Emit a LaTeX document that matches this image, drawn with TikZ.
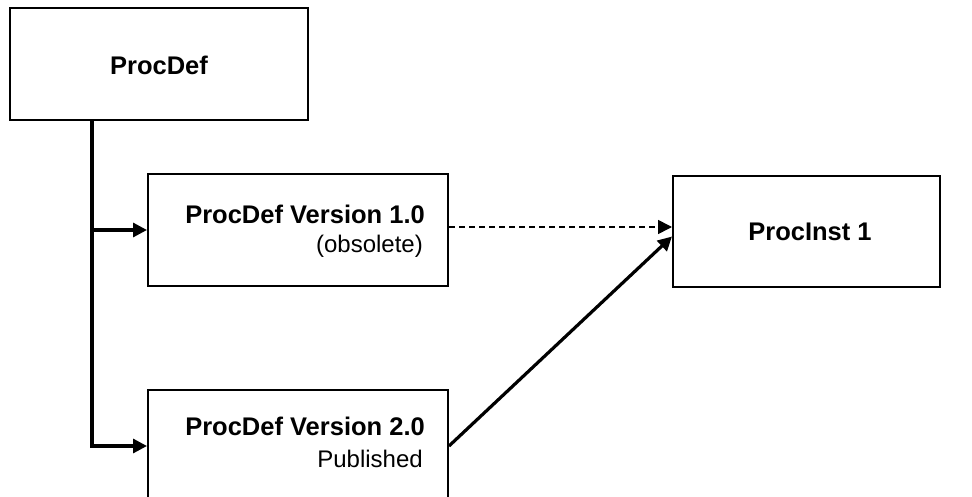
\documentclass[tikz,border=0pt]{standalone}
\usepackage{fontspec}
\setmainfont{Liberation Sans}
\usetikzlibrary{arrows.meta}
\begin{document}
\begin{tikzpicture}[x=1pt,y=-1pt,
  box/.style={draw=black,line width=2pt,fill=white,inner sep=0pt},
  bigtxt/.style={font=\fontsize{25.5}{30}\selectfont\bfseries,inner sep=0pt},
  smalltxt/.style={font=\fontsize{24}{28}\selectfont,inner sep=0pt},
  conn/.style={line width=3.2pt,-{Triangle[length=14pt,width=14pt]}},
  dconn/.style={line width=1.6pt,dash pattern=on 6pt off 4pt,-{Triangle[length=14pt,width=14pt]}}]
\clip (0,0) rectangle (972,497);
\useasboundingbox (0,0) rectangle (972,497);
\fill[white] (0,0) rectangle (972,497);
% boxes
\node[box,minimum width=298pt,minimum height=112pt] (procdef) at (159,64) {};
\node[box,minimum width=300pt,minimum height=112pt] (v1) at (298,230) {};
\node[box,minimum width=300pt,minimum height=112pt] (v2) at (298,446) {};
\node[box,minimum width=267pt,minimum height=111pt] (pi) at (806.5,231.5) {};
% texts
\node[bigtxt] (procdeftxt) at (159,65) {ProcDef};
\node[bigtxt,anchor=base east] (v1a) at (425,224) {ProcDef Version 1.0};
\node[smalltxt,anchor=base east] (v1b) at (423,253) {(obsolete)};
\node[bigtxt,anchor=base east] (v2a) at (425,435) {ProcDef Version 2.0};
\node[smalltxt,anchor=base east] (v2b) at (423,467) {Published};
\node[bigtxt] (pitxt) at (810,232) {ProcInst 1};
% connectors
\coordinate (top) at ([xshift=83pt]procdef.south west);
\coordinate (j1) at (top |- v1.west);
\draw[conn] (top) |- (v2.west);
\draw[conn] (j1) -- (v1.west);
\draw[dconn] ([yshift=3pt]v1.east) -- ([yshift=3pt]v1.east -| pi.west);
\draw[conn] (v2.east) -- ([yshift=-5pt]pi.west);
\end{tikzpicture}
\end{document}
